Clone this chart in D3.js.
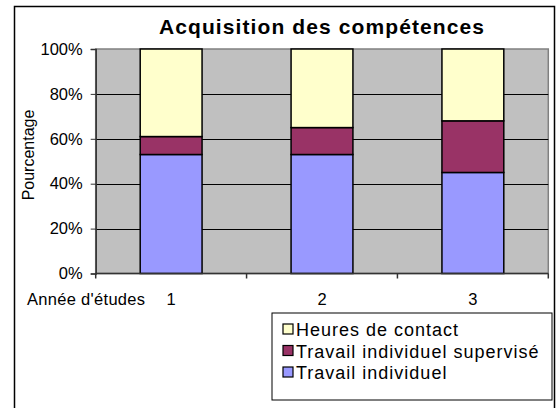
<!DOCTYPE html>
<html>
<head>
<meta charset="utf-8">
<script src="https://cdn.jsdelivr.net/npm/d3@7/dist/d3.min.js"></script>
<style>
  html, body { margin: 0; padding: 0; background: #fff; }
  svg { display: block; }
  text { font-family: Arial, "Liberation Sans", sans-serif; fill: #000; }
</style>
</head>
<body>
<div id="chart"></div>
<script>
// données (%)
const years = ['1', '2', '3'];
const travailIndividuel = [53, 53, 45];
const travailSupervise = [8, 12, 23];
const heuresContact = [39, 35, 32];
const yTicks = [0, 20, 40, 60, 80, 100];

const seriesNames = ['Travail individuel', 'Travail individuel supervisé', 'Heures de contact'];
const seriesColors = ['#9999FF', '#993366', '#FFFFCC'];

const W = 558, H = 408;
const PLOT = { left: 95.7, right: 548.3, top: 49, bottom: 273.5 };

const svg = d3.select('#chart').append('svg')
    .attr('width', W)
    .attr('height', H);

// cadre extérieur (pas de bord bas visible)
svg.append('path')
    .attr('d', `M14.5,${H + 2}V6.5H554.5V${H + 2}`)
    .attr('fill', 'none')
    .attr('stroke', '#000')
    .attr('stroke-width', 1.5);

// titre
svg.append('text')
    .attr('x', 322)
    .attr('y', 33.5)
    .attr('text-anchor', 'middle')
    .style('font-size', '21px')
    .style('font-weight', 'bold')
    .style('letter-spacing', '1.1px')
    .text('Acquisition des compétences');

// table pour d3.stack
const table = years.map((y, i) => ({
    year: y,
    'Travail individuel': travailIndividuel[i],
    'Travail individuel supervisé': travailSupervise[i],
    'Heures de contact': heuresContact[i]
}));
const stacked = d3.stack().keys(seriesNames)(table);

const x = d3.scaleBand()
    .domain(years)
    .range([PLOT.left, PLOT.right])
    .paddingInner(0.59)
    .paddingOuter(0.295);

const y = d3.scaleLinear()
    .domain([0, 100])
    .range([PLOT.bottom, PLOT.top]);

// fond de la zone de traçage
svg.append('rect')
    .attr('x', PLOT.left)
    .attr('y', PLOT.top)
    .attr('width', PLOT.right - PLOT.left)
    .attr('height', PLOT.bottom - PLOT.top)
    .attr('fill', '#C0C0C0')
    .attr('stroke', '#808080')
    .attr('stroke-width', 1.5);

// quadrillage
svg.append('g')
    .selectAll('line')
    .data(yTicks.filter(d => d > 0 && d < 100))
    .join('line')
    .attr('x1', PLOT.left)
    .attr('x2', PLOT.right)
    .attr('y1', d => Math.round(y(d)) + 0.5)
    .attr('y2', d => Math.round(y(d)) + 0.5)
    .attr('stroke', '#000')
    .attr('stroke-width', 1);

// barres empilées
svg.append('g')
    .selectAll('g')
    .data(stacked)
    .join('g')
    .attr('fill', (d, i) => seriesColors[i])
    .selectAll('rect')
    .data(d => d)
    .join('rect')
    .attr('x', d => x(d.data.year))
    .attr('y', d => y(d[1]))
    .attr('width', x.bandwidth())
    .attr('height', d => y(d[0]) - y(d[1]))
    .attr('stroke', '#000')
    .attr('stroke-width', 1.5);

// axe Y
const yAxis = svg.append('g')
    .attr('transform', `translate(${PLOT.left},0)`)
    .call(d3.axisLeft(y).tickValues(yTicks).tickFormat(d => d + '%').tickSize(5).tickPadding(8));
yAxis.select('.domain').attr('stroke', '#333').attr('stroke-width', 1.5);
yAxis.selectAll('.tick line').attr('stroke', '#333');
yAxis.selectAll('.tick text')
    .attr('fill', '#000')
    .style('font-size', '16.5px')
    .style('font-family', 'Arial, "Liberation Sans", sans-serif');

// axe X : graduations entre les catégories
const bounds = d3.range(years.length + 1).map(i => x.range()[0] + i * x.step());
svg.append('line')
    .attr('x1', PLOT.left)
    .attr('x2', PLOT.right)
    .attr('y1', PLOT.bottom)
    .attr('y2', PLOT.bottom)
    .attr('stroke', '#333')
    .attr('stroke-width', 1.5);
svg.append('g')
    .selectAll('line')
    .data(bounds)
    .join('line')
    .attr('x1', d => d)
    .attr('x2', d => d)
    .attr('y1', PLOT.bottom)
    .attr('y2', PLOT.bottom + 5)
    .attr('stroke', '#333')
    .attr('stroke-width', 1.5);

svg.append('g')
    .selectAll('text')
    .data(years)
    .join('text')
    .attr('x', d => x(d) + x.bandwidth() / 2)
    .attr('y', 305)
    .attr('text-anchor', 'middle')
    .style('font-size', '16.5px')
    .text(d => d);

svg.append('text')
    .attr('x', 27)
    .attr('y', 305)
    .style('font-size', '16.5px')
    .style('letter-spacing', '0.3px')
    .text("Année d'études");

// titre de l'axe Y
svg.append('text')
    .attr('transform', 'translate(34,155) rotate(-90)')
    .attr('text-anchor', 'middle')
    .style('font-size', '16px')
    .text('Pourcentage');

// légende
const legend = svg.append('g');
legend.append('rect')
    .attr('x', 272)
    .attr('y', 313)
    .attr('width', 280)
    .attr('height', 87)
    .attr('fill', '#fff')
    .attr('stroke', '#000')
    .attr('stroke-width', 1);

const legendOrder = [2, 1, 0];
const items = legend.selectAll('g.item')
    .data(legendOrder)
    .join('g')
    .attr('class', 'item')
    .attr('transform', (d, i) => `translate(283,${324 + i * 21.5})`);
items.append('rect')
    .attr('width', 10)
    .attr('height', 10)
    .attr('fill', d => seriesColors[d])
    .attr('stroke', '#000')
    .attr('stroke-width', 1.2);
items.append('text')
    .attr('x', 13)
    .attr('y', 12)
    .style('font-size', '18px')
    .style('letter-spacing', '1px')
    .text(d => seriesNames[d]);
</script>
</body>
</html>
